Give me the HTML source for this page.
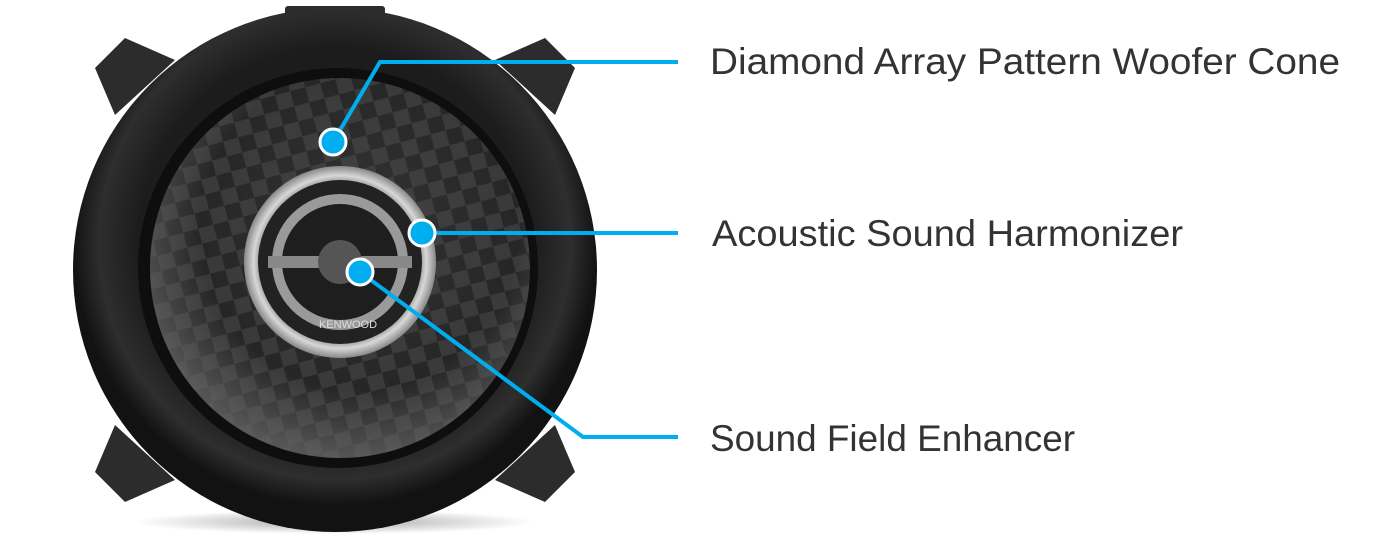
<!DOCTYPE html>
<html><head><meta charset="utf-8"><style>
html,body{margin:0;padding:0;background:#fff;width:1400px;height:536px;overflow:hidden}
svg{position:absolute;left:0;top:0}
.t{font-family:"Liberation Sans","DejaVu Sans",sans-serif;font-size:37px;fill:#333;font-weight:normal}
</style></head><body>
<svg width="1400" height="536" viewBox="0 0 1400 536">
<defs>
<radialGradient id="rim" cx="50%" cy="45%" r="50%">
<stop offset="0.75" stop-color="#1c1c1c"/><stop offset="0.9" stop-color="#2e2e2e"/><stop offset="1" stop-color="#121212"/>
</radialGradient>
<radialGradient id="cone" cx="55%" cy="40%" r="60%">
<stop offset="0.3" stop-color="#2e2e2e"/><stop offset="0.7" stop-color="#262626"/><stop offset="1" stop-color="#555"/>
</radialGradient>
<pattern id="dia" width="22" height="22" patternUnits="userSpaceOnUse" patternTransform="rotate(30)">
<path d="M11 0 L22 11 L11 22 L0 11Z" fill="#666" opacity="0.3"/>
</pattern>
<radialGradient id="ring" cx="50%" cy="50%" r="50%">
<stop offset="0.8" stop-color="#777"/><stop offset="0.9" stop-color="#d8d8d8"/><stop offset="1" stop-color="#888"/>
</radialGradient>
<radialGradient id="shadow" cx="50%" cy="50%" r="50%">
<stop offset="0" stop-color="#000" stop-opacity="0.35"/><stop offset="1" stop-color="#000" stop-opacity="0"/>
</radialGradient>
</defs>
<ellipse cx="335" cy="522" rx="200" ry="12" fill="url(#shadow)"/>
<g fill="#2c2c2c">
<path d="M95 68 L125 38 L175 60 L115 115 Z"/>
<path d="M575 68 L545 38 L495 60 L555 115 Z"/>
<path d="M95 472 L125 502 L175 480 L115 425 Z"/>
<path d="M575 472 L545 502 L495 480 L555 425 Z"/>
<rect x="285" y="6" width="100" height="20" rx="3"/>
<rect x="285" y="510" width="100" height="18" rx="3" fill="#555"/>
</g>
<circle cx="335" cy="270" r="262" fill="url(#rim)"/>
<circle cx="338" cy="268" r="200" fill="#0e0e0e"/>
<circle cx="340" cy="268" r="190" fill="url(#cone)"/>
<circle cx="340" cy="268" r="190" fill="url(#dia)"/>
<circle cx="340" cy="262" r="96" fill="url(#ring)"/>
<circle cx="340" cy="262" r="82" fill="#222"/>
<circle cx="340" cy="262" r="68" fill="#9a9a9a"/>
<circle cx="340" cy="262" r="58" fill="#1e1e1e"/>
<rect x="268" y="256" width="144" height="12" fill="#888"/>
<circle cx="340" cy="262" r="22" fill="#555"/>
<text x="348" y="328" font-family="Liberation Sans,sans-serif" font-size="11" fill="#ddd" text-anchor="middle">KENWOOD</text>
<g stroke="#00aeef" stroke-width="4" fill="none">
<polyline points="333,142 380,62 678,62"/>
<polyline points="422,233 678,233"/>
<polyline points="360,272 583,437 678,437"/>
</g>
<g fill="#00aeef" stroke="#fff" stroke-width="3">
<circle cx="333" cy="142" r="13"/>
<circle cx="422" cy="233" r="13"/>
<circle cx="360" cy="272" r="13"/>
</g>
<text class="t" x="710" y="74" textLength="630" lengthAdjust="spacingAndGlyphs">Diamond Array Pattern Woofer Cone</text>
<text class="t" x="712" y="246" textLength="471" lengthAdjust="spacingAndGlyphs">Acoustic Sound Harmonizer</text>
<text class="t" x="710" y="451" textLength="365" lengthAdjust="spacingAndGlyphs">Sound Field Enhancer</text>
</svg>
</body></html>
